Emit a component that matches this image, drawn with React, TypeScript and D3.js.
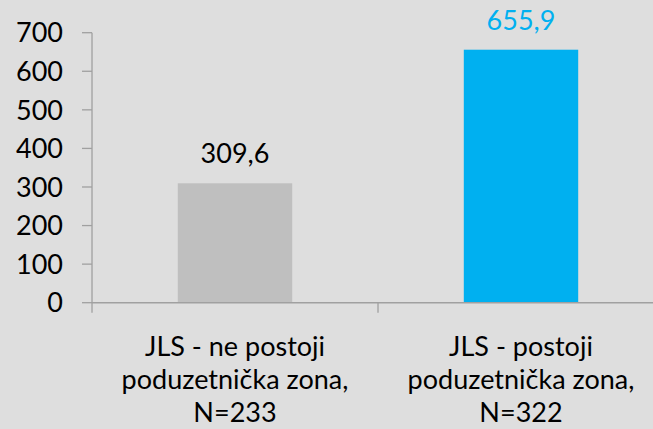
import React from "react";
import * as d3 from "d3";

const categories = [
  ["JLS - ne postoji", "poduzetnička zona,", "N=233"],
  ["JLS - postoji", "poduzetnička zona,", "N=322"],
];
const values = [309.6, 655.9];
const valueLabels = ["309,6", "655,9"];
const barColors = ["#BFBFBF", "#00B0F0"];
const labelColors = ["#000000", "#00B0F0"];
const yTicks = [0, 100, 200, 300, 400, 500, 600, 700];

const W = 653;
const H = 429;
const FONT = "Lato, 'Open Sans', sans-serif";

export default function App() {
  const y = d3.scaleLinear().domain([0, 700]).range([302.7, 32.7]);
  const keys = categories.map((_, i) => String(i));
  const x = d3
    .scaleBand<string>()
    .domain(keys)
    .range([92, 664])
    .paddingInner(0.6)
    .paddingOuter(0.3);
  const step = x.step();
  const x0 = 92;
  const axisColor = "#A0A0A0";

  return (
    <svg
      width={W}
      height={H}
      style={{ position: "absolute", left: 0, top: 0, background: "#DEDEDE" }}
      fontFamily={FONT}
    >
      <rect x={0} y={0} width={W} height={H} fill="#DEDEDE" />
      {/* bars */}
      {values.map((v, i) => (
        <rect
          key={i}
          x={x(keys[i])!}
          y={y(v)}
          width={x.bandwidth()}
          height={y(0) - y(v)}
          fill={barColors[i]}
        />
      ))}
      {/* y axis */}
      <line x1={x0} x2={x0} y1={y(700)} y2={y(0) + 10} stroke={axisColor} strokeWidth={1.3} />
      {yTicks.map((t) => (
        <g key={t}>
          <line x1={x0 - 10} x2={x0} y1={y(t)} y2={y(t)} stroke={axisColor} strokeWidth={1.3} />
          <text
            x={63}
            y={y(t)}
            dy="0.36em"
            textAnchor="end"
            fontSize={27}
            fill="#000"
          >
            {t}
          </text>
        </g>
      ))}
      {/* x axis */}
      <line x1={x0} x2={W} y1={y(0)} y2={y(0)} stroke={axisColor} strokeWidth={1.5} />
      {keys.slice(1).map((k) => (
        <line
          key={k}
          x1={x(k)! - (step - x.bandwidth()) / 2}
          x2={x(k)! - (step - x.bandwidth()) / 2}
          y1={y(0)}
          y2={y(0) + 10}
          stroke={axisColor}
          strokeWidth={1.3}
        />
      ))}
      {/* category labels */}
      {categories.map((lines, i) => {
        const cx = x(keys[i])! + x.bandwidth() / 2;
        return (
          <text key={i} textAnchor="middle" fontSize={27} fill="#000">
            {lines.map((l, j) => (
              <tspan key={j} x={cx} y={356 + j * 33}>
                {l}
              </tspan>
            ))}
          </text>
        );
      })}
      {/* value labels */}
      {values.map((v, i) => (
        <text
          key={i}
          x={x(keys[i])! + x.bandwidth() / 2}
          y={y(v) - 20}
          textAnchor="middle"
          fontSize={27}
          fill={labelColors[i]}
        >
          {valueLabels[i]}
        </text>
      ))}
    </svg>
  );
}
